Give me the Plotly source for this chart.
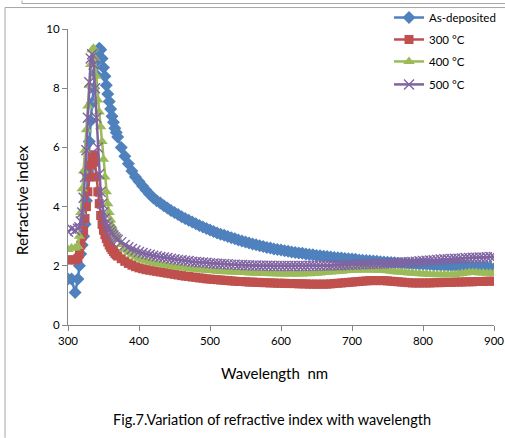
import plotly.graph_objects as go

wavelength = ([300, 305, 310]
              + list(range(314, 371, 2))
              + list(range(375, 905, 5)))

as_deposited = [
    1.55, 1.55, 1.10,
    1.55, 2.00, 2.40, 2.70, 3.00, 3.40, 4.20, 5.20, 6.20, 6.90,
    7.50, 8.00, 8.50, 8.90, 9.20, 9.35, 9.30, 9.00, 8.70, 8.40,
    8.10, 7.80, 7.55, 7.30, 7.05, 6.85, 6.65, 6.50, 6.35,
    6.00, 5.70, 5.45, 5.20, 5.00,
    4.85, 4.70, 4.55, 4.42, 4.30, 4.20, 4.12, 4.03, 3.95, 3.87,
    3.80, 3.73, 3.66, 3.60, 3.54, 3.48, 3.42, 3.36, 3.31, 3.26,
    3.21, 3.16, 3.11, 3.07, 3.03, 2.99, 2.95, 2.91, 2.87, 2.84,
    2.80, 2.77, 2.74, 2.71, 2.68, 2.65, 2.62, 2.60, 2.57, 2.55,
    2.53, 2.51, 2.49, 2.47, 2.45, 2.43, 2.42, 2.40, 2.38, 2.37,
    2.35, 2.34, 2.32, 2.31, 2.30, 2.28, 2.27, 2.26, 2.25, 2.24,
    2.23, 2.22, 2.20, 2.19, 2.18, 2.17, 2.16, 2.15, 2.14, 2.13,
    2.12, 2.11, 2.10, 2.09, 2.08, 2.08, 2.07, 2.06, 2.06, 2.05,
    2.05, 2.04, 2.04, 2.03, 2.03, 2.02, 2.02, 2.01, 2.01, 2.00,
    2.00, 1.99, 1.99, 1.98, 1.98, 1.97, 1.97, 1.96, 1.95, 1.93,
    1.90]

t300 = [
    2.20, 2.20, 2.20,
    2.25, 2.40, 2.70, 3.00, 3.20, 3.60, 4.00, 4.50, 5.00, 5.40,
    5.70, 5.75, 5.50, 5.00, 4.50, 4.10, 3.70, 3.40, 3.20, 3.05,
    2.92, 2.80, 2.70, 2.62, 2.55, 2.48, 2.42, 2.37, 2.33,
    2.24, 2.15, 2.08, 2.02, 1.97,
    1.93, 1.90, 1.87, 1.85, 1.83, 1.81, 1.79, 1.77, 1.75, 1.73,
    1.71, 1.69, 1.67, 1.65, 1.64, 1.62, 1.61, 1.59, 1.58, 1.56,
    1.55, 1.54, 1.53, 1.52, 1.51, 1.50, 1.49, 1.48, 1.47, 1.47,
    1.46, 1.45, 1.45, 1.44, 1.44, 1.43, 1.43, 1.42, 1.42, 1.41,
    1.41, 1.41, 1.40, 1.40, 1.40, 1.39, 1.39, 1.39, 1.38, 1.38,
    1.38, 1.38, 1.38, 1.38, 1.39, 1.40, 1.41, 1.42, 1.43, 1.44,
    1.45, 1.46, 1.47, 1.48, 1.49, 1.50, 1.50, 1.50, 1.50, 1.50,
    1.49, 1.48, 1.47, 1.46, 1.45, 1.44, 1.43, 1.42, 1.42, 1.42,
    1.42, 1.42, 1.42, 1.43, 1.43, 1.43, 1.44, 1.44, 1.44, 1.45,
    1.45, 1.45, 1.46, 1.46, 1.46, 1.47, 1.47, 1.47, 1.48, 1.48,
    1.48]

t400 = [
    2.55, 2.60, 2.60,
    2.65, 3.00, 3.80, 4.60, 5.20, 5.90, 6.60, 7.40, 8.10, 8.80,
    9.30, 9.35, 9.00, 8.40, 7.60, 7.20, 6.70, 6.20, 5.60, 5.00,
    4.50, 4.10, 3.80, 3.55, 3.35, 3.20, 3.08, 2.98, 2.90,
    2.72, 2.56, 2.45, 2.37, 2.30,
    2.25, 2.20, 2.16, 2.13, 2.10, 2.07, 2.05, 2.03, 2.01, 1.99,
    1.97, 1.95, 1.93, 1.92, 1.90, 1.89, 1.88, 1.87, 1.86, 1.85,
    1.84, 1.83, 1.82, 1.81, 1.80, 1.80, 1.79, 1.78, 1.78, 1.77,
    1.77, 1.76, 1.76, 1.75, 1.75, 1.74, 1.74, 1.73, 1.73, 1.73,
    1.72, 1.72, 1.72, 1.72, 1.72, 1.72, 1.72, 1.73, 1.73, 1.74,
    1.75, 1.76, 1.77, 1.78, 1.79, 1.80, 1.81, 1.82, 1.83, 1.84,
    1.85, 1.85, 1.86, 1.86, 1.86, 1.86, 1.86, 1.85, 1.85, 1.84,
    1.83, 1.82, 1.80, 1.79, 1.78, 1.77, 1.76, 1.75, 1.74, 1.73,
    1.72, 1.72, 1.71, 1.71, 1.70, 1.70, 1.70, 1.70, 1.70, 1.71,
    1.72, 1.74, 1.76, 1.77, 1.77, 1.77, 1.76, 1.76, 1.75, 1.75,
    1.74]

t500 = [
    3.15, 3.25, 3.20,
    3.25, 3.30, 3.50, 3.80, 4.30, 5.00, 5.90, 7.00, 8.20, 9.00,
    9.15, 8.80, 8.00, 7.00, 6.00, 5.10, 4.50, 4.10, 3.80, 3.60,
    3.45, 3.33, 3.23, 3.15, 3.08, 3.02, 2.96, 2.91, 2.87,
    2.80, 2.70, 2.63, 2.57, 2.52,
    2.47, 2.43, 2.40, 2.37, 2.34, 2.32, 2.30, 2.28, 2.26, 2.24,
    2.22, 2.20, 2.19, 2.17, 2.16, 2.14, 2.13, 2.12, 2.11, 2.10,
    2.09, 2.08, 2.07, 2.06, 2.06, 2.05, 2.04, 2.04, 2.03, 2.03,
    2.02, 2.02, 2.01, 2.01, 2.00, 2.00, 2.00, 2.00, 1.99, 1.99,
    1.99, 1.99, 1.99, 1.99, 1.99, 1.99, 1.99, 1.99, 2.00, 2.00,
    2.00, 2.00, 2.01, 2.01, 2.01, 2.02, 2.02, 2.02, 2.03, 2.03,
    2.04, 2.04, 2.05, 2.05, 2.06, 2.06, 2.07, 2.07, 2.08, 2.08,
    2.09, 2.09, 2.10, 2.10, 2.11, 2.11, 2.12, 2.13, 2.14, 2.15,
    2.16, 2.17, 2.18, 2.19, 2.20, 2.21, 2.22, 2.22, 2.23, 2.24,
    2.24, 2.25, 2.26, 2.26, 2.27, 2.27, 2.28, 2.28, 2.29, 2.30,
    2.30]

series_names = ["As-deposited", "300 \u00b0C", "400 \u00b0C", "500 \u00b0C"]
x_ticks = [300, 400, 500, 600, 700, 800, 900]
y_ticks = [0, 2, 4, 6, 8, 10]

W, H = 505, 438
L, R, T, B = 68, 494, 28.5, 325.0


def px(p):
    return (p - L) / (R - L)


def py(p):
    return (B - p) / (B - T)


FONT = "Lato"
fig = go.Figure()

styles = [
    dict(color="#4F81BD", symbol="diamond", size=10),
    dict(color="#C0504D", symbol="square", size=9),
    dict(color="#9BBB59", symbol="triangle-up", size=10),
    dict(color="#8064A2", symbol="x-thin", size=10),
]
data = [as_deposited, t300, t400, t500]
legends = ["legend", "legend2", "legend3", "legend4"]

for name, vals, st, lg in zip(series_names, data, styles, legends):
    n = min(len(wavelength), len(vals))
    marker = dict(symbol=st["symbol"], size=st["size"], color=st["color"],
                  line=dict(width=0))
    if st["symbol"] == "x-thin":
        marker["line"] = dict(width=1.4, color=st["color"])
    fig.add_trace(go.Scatter(
        x=wavelength[:n], y=vals[:n], name=name, mode="lines+markers",
        line=dict(color=st["color"], width=2.5),
        marker=marker, legend=lg))

leg_y = [17, 39, 61, 84]
layout_legends = {}
for lg, yy in zip(legends, leg_y):
    layout_legends[lg] = dict(
        x=px(389), y=py(yy), xanchor="left", yanchor="middle",
        bgcolor="rgba(0,0,0,0)", font=dict(family=FONT, size=11.5, color="#000"),
        borderwidth=0, itemwidth=30)

axis_common = dict(showgrid=False, zeroline=False, showline=True,
                   linecolor="#868686", linewidth=1, ticks="outside",
                   tickcolor="#868686", ticklen=5,
                   tickfont=dict(family=FONT, size=11.5, color="#000"))

fig.update_layout(
    width=W, height=H,
    margin=dict(l=L, r=W - R, t=T, b=H - B, autoexpand=False),
    paper_bgcolor="white", plot_bgcolor="white",
    showlegend=True,
    xaxis=dict(range=[300, 900], tickvals=x_ticks, **axis_common),
    yaxis=dict(range=[0, 10], tickvals=y_ticks, **axis_common),
    **layout_legends,
)

annotations = [
    dict(text="Refractive index", x=px(22), y=py(200), textangle=-90,
         font=dict(family=FONT, size=15.5, color="#000")),
    dict(text="Wavelength  nm", x=px(274), y=py(373),
         font=dict(family=FONT, size=15, color="#000")),
    dict(text="Fig.7.Variation of refractive index with wavelength",
         x=px(272), y=py(420), font=dict(family=FONT, size=14.5, color="#000")),
]
for a in annotations:
    fig.add_annotation(xref="paper", yref="paper", showarrow=False,
                       xanchor="center", yanchor="middle", **a)

border = "#A6A6A6"
shapes = [
    ((5, 7), (W, 7)),
    ((5, 7), (5, H)),
    ((22, 3), (W, 3)),
    ((22, 0), (22, 3)),
]
for (x0, y0), (x1, y1) in shapes:
    fig.add_shape(type="line", xref="paper", yref="paper",
                  x0=px(x0), y0=py(y0), x1=px(x1), y1=py(y1),
                  line=dict(color=border, width=1))

fig.write_html("out.html",
               config={"displayModeBar": False},
               post_script="document.body.style.margin='0';"
                           "document.body.style.overflow='hidden';")
